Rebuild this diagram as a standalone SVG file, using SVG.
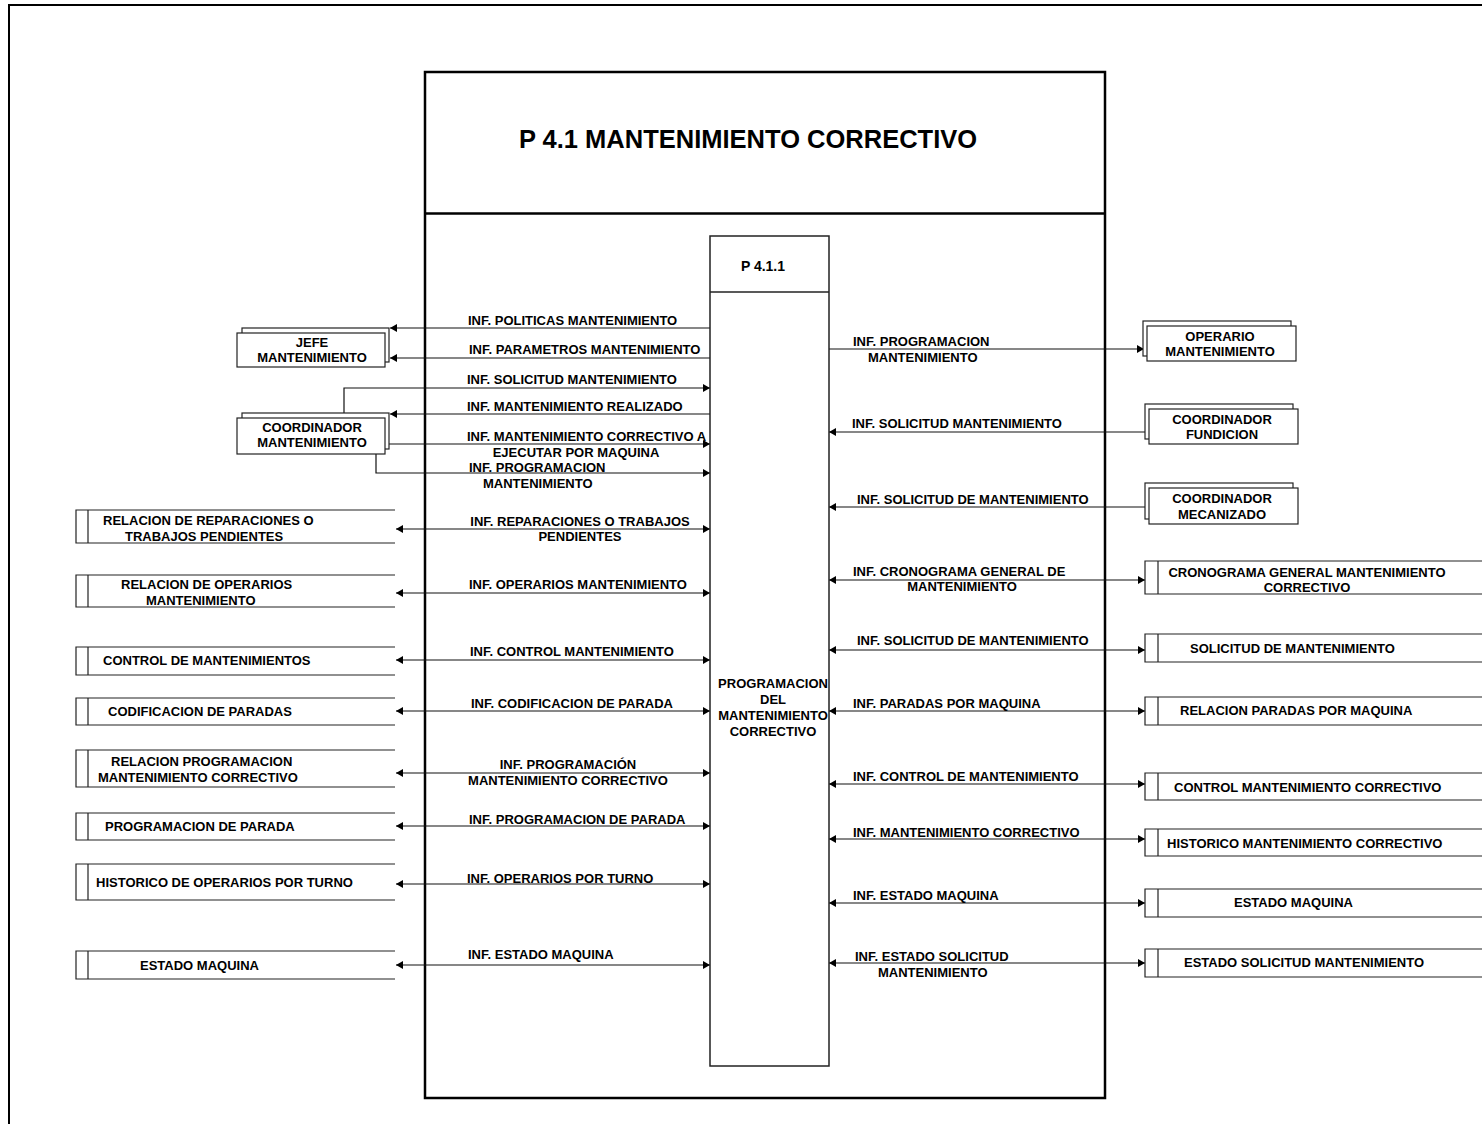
<svg xmlns="http://www.w3.org/2000/svg" width="1482" height="1124" viewBox="0 0 1482 1124">
  <style>
    text { font-family: "Liberation Sans", Arial, sans-serif; font-weight: bold; fill: #000; }
    .lbl { font-size: 13px; }
    .mid { text-anchor: middle; }
    .frame { fill: none; stroke: #000; stroke-width: 2; }
    .box { fill: #fff; stroke: #000; stroke-width: 2.5; }
    .proc { fill: #fff; stroke: #222; stroke-width: 1.5; }
    .ent { fill: #fff; stroke: #222; stroke-width: 1.2; }
    .store { fill: none; stroke: #222; stroke-width: 1.2; }
    .flow { fill: none; stroke: #111; stroke-width: 1.2; }
    .one { marker-end: url(#arr); }
    .two { marker-start: url(#arr); marker-end: url(#arr); }
  </style>
  <defs>
    <marker id="arr" viewBox="0 0 7 8" refX="7" refY="4" markerWidth="7" markerHeight="8" markerUnits="userSpaceOnUse" orient="auto-start-reverse">
      <path d="M0,0 L7,4 L0,8 z" fill="#000"/>
    </marker>
  </defs>

  <rect width="1482" height="1124" fill="#fff"/>

  <!-- page frame -->
  <path class="frame" d="M9,1124 V5 H1482"/>

  <!-- process P 4.1 -->
  <g id="p41">
    <rect class="box" x="425" y="72" width="680" height="1026"/>
    <line x1="425" y1="213.5" x2="1105" y2="213.5" stroke="#000" stroke-width="2.5"/>
    <text x="748" y="148" class="mid" style="font-size:25.5px">P 4.1 MANTENIMIENTO CORRECTIVO</text>
  </g>

  <!-- connectors -->
  <g id="connectors">
    <!-- Jefe mantenimiento -->
    <line class="flow one" x1="710" y1="328" x2="390" y2="328"/>
    <line class="flow one" x1="710" y1="358" x2="390" y2="358"/>
    <!-- Coordinador mantenimiento -->
    <polyline class="flow one" points="344,413 344,388 710,388"/>
    <line class="flow one" x1="710" y1="414" x2="390" y2="414"/>
    <line class="flow one" x1="385" y1="444" x2="710" y2="444"/>
    <polyline class="flow one" points="376,454 376,473 710,473"/>
    <!-- left data stores -->
    <line class="flow two" x1="396" y1="529" x2="710" y2="529"/>
    <line class="flow two" x1="396" y1="593" x2="710" y2="593"/>
    <line class="flow two" x1="396" y1="660" x2="710" y2="660"/>
    <line class="flow two" x1="396" y1="711" x2="710" y2="711"/>
    <line class="flow two" x1="396" y1="773" x2="710" y2="773"/>
    <line class="flow two" x1="396" y1="826" x2="710" y2="826"/>
    <line class="flow two" x1="396" y1="884" x2="710" y2="884"/>
    <line class="flow two" x1="396" y1="965" x2="710" y2="965"/>
    <!-- right entities -->
    <line class="flow one" x1="829" y1="349" x2="1144" y2="349"/>
    <line class="flow one" x1="1145" y1="432" x2="829" y2="432"/>
    <line class="flow one" x1="1145" y1="507" x2="829" y2="507"/>
    <!-- right data stores -->
    <line class="flow two" x1="829" y1="580" x2="1145" y2="580"/>
    <line class="flow two" x1="829" y1="650" x2="1145" y2="650"/>
    <line class="flow two" x1="829" y1="711" x2="1145" y2="711"/>
    <line class="flow two" x1="829" y1="784" x2="1145" y2="784"/>
    <line class="flow two" x1="829" y1="839" x2="1145" y2="839"/>
    <line class="flow two" x1="829" y1="903" x2="1145" y2="903"/>
    <line class="flow two" x1="829" y1="963" x2="1145" y2="963"/>

    <!-- flow labels, left -->
    <text class="lbl" x="468" y="325">INF. POLITICAS MANTENIMIENTO</text>
    <text class="lbl" x="469" y="354">INF. PARAMETROS MANTENIMIENTO</text>
    <text class="lbl" x="467" y="384">INF. SOLICITUD MANTENIMIENTO</text>
    <text class="lbl" x="467" y="411">INF. MANTENIMIENTO REALIZADO</text>
    <text class="lbl" x="467" y="441">INF. MANTENIMIENTO CORRECTIVO A</text>
    <text class="lbl mid" x="576" y="457">EJECUTAR POR MAQUINA</text>
    <text class="lbl" x="469" y="472">INF. PROGRAMACION</text>
    <text class="lbl" x="483" y="488">MANTENIMIENTO</text>
    <text class="lbl mid" x="580" y="526">INF. REPARACIONES O TRABAJOS</text>
    <text class="lbl mid" x="580" y="541">PENDIENTES</text>
    <text class="lbl" x="469" y="589">INF. OPERARIOS MANTENIMIENTO</text>
    <text class="lbl" x="470" y="656">INF. CONTROL MANTENIMIENTO</text>
    <text class="lbl" x="471" y="708">INF. CODIFICACION DE PARADA</text>
    <text class="lbl mid" x="568" y="769">INF. PROGRAMACIÓN</text>
    <text class="lbl mid" x="568" y="785">MANTENIMIENTO CORRECTIVO</text>
    <text class="lbl" x="469" y="824">INF. PROGRAMACION DE PARADA</text>
    <text class="lbl" x="467" y="883">INF. OPERARIOS POR TURNO</text>
    <text class="lbl" x="468" y="959">INF. ESTADO MAQUINA</text>

    <!-- flow labels, right -->
    <text class="lbl" x="853" y="346">INF. PROGRAMACION</text>
    <text class="lbl" x="868" y="362">MANTENIMIENTO</text>
    <text class="lbl" x="852" y="428">INF. SOLICITUD MANTENIMIENTO</text>
    <text class="lbl" x="857" y="504">INF. SOLICITUD DE MANTENIMIENTO</text>
    <text class="lbl" x="853" y="576">INF. CRONOGRAMA GENERAL DE</text>
    <text class="lbl mid" x="962" y="591">MANTENIMIENTO</text>
    <text class="lbl" x="857" y="645">INF. SOLICITUD DE MANTENIMIENTO</text>
    <text class="lbl" x="853" y="708">INF. PARADAS POR MAQUINA</text>
    <text class="lbl" x="853" y="781">INF. CONTROL DE MANTENIMIENTO</text>
    <text class="lbl" x="853" y="837">INF. MANTENIMIENTO CORRECTIVO</text>
    <text class="lbl" x="853" y="900">INF. ESTADO MAQUINA</text>
    <text class="lbl" x="855" y="961">INF. ESTADO SOLICITUD</text>
    <text class="lbl" x="878" y="977">MANTENIMIENTO</text>
  </g>

  <!-- process P 4.1.1 -->
  <g id="p411">
    <rect class="proc" x="710" y="236" width="119" height="830"/>
    <line x1="710" y1="292" x2="829" y2="292" stroke="#222" stroke-width="1.5"/>
    <text class="mid" x="763" y="271" style="font-size:14px">P 4.1.1</text>
    <text class="lbl mid" x="773" y="688">PROGRAMACION</text>
    <text class="lbl mid" x="773" y="704">DEL</text>
    <text class="lbl mid" x="773" y="720">MANTENIMIENTO</text>
    <text class="lbl mid" x="773" y="736">CORRECTIVO</text>
  </g>

  <!-- external entities, left -->
  <g id="jefe-mantenimiento">
    <rect class="ent" x="242" y="328" width="147" height="34"/>
    <rect class="ent" x="237" y="333" width="148" height="34"/>
    <text class="lbl mid" x="312" y="347">JEFE</text>
    <text class="lbl mid" x="312" y="362">MANTENIMIENTO</text>
  </g>
  <g id="coordinador-mantenimiento">
    <rect class="ent" x="242" y="413" width="147" height="36"/>
    <rect class="ent" x="237" y="418" width="148" height="36"/>
    <text class="lbl mid" x="312" y="432">COORDINADOR</text>
    <text class="lbl mid" x="312" y="447">MANTENIMIENTO</text>
  </g>

  <!-- data stores, left -->
  <g id="ds-reparaciones">
    <path class="store" d="M395,510 H76 V543 H395 M88,510 V543"/>
    <text class="lbl" x="103" y="525">RELACION DE REPARACIONES O</text>
    <text class="lbl" x="125" y="541">TRABAJOS PENDIENTES</text>
  </g>
  <g id="ds-operarios">
    <path class="store" d="M395,575 H76 V607 H395 M88,575 V607"/>
    <text class="lbl" x="121" y="589">RELACION DE OPERARIOS</text>
    <text class="lbl" x="146" y="605">MANTENIMIENTO</text>
  </g>
  <g id="ds-control">
    <path class="store" d="M395,647 H76 V675 H395 M88,647 V675"/>
    <text class="lbl" x="103" y="665">CONTROL DE MANTENIMIENTOS</text>
  </g>
  <g id="ds-codificacion">
    <path class="store" d="M395,698 H76 V725 H395 M88,698 V725"/>
    <text class="lbl" x="108" y="716">CODIFICACION DE PARADAS</text>
  </g>
  <g id="ds-programacion-correctivo">
    <path class="store" d="M395,750 H76 V787 H395 M88,750 V787"/>
    <text class="lbl" x="111" y="766">RELACION PROGRAMACION</text>
    <text class="lbl" x="98" y="782">MANTENIMIENTO CORRECTIVO</text>
  </g>
  <g id="ds-programacion-parada">
    <path class="store" d="M395,813 H76 V840 H395 M88,813 V840"/>
    <text class="lbl" x="105" y="831">PROGRAMACION DE PARADA</text>
  </g>
  <g id="ds-operarios-turno">
    <path class="store" d="M395,864 H76 V900 H395 M88,864 V900"/>
    <text class="lbl" x="96" y="887">HISTORICO DE OPERARIOS POR TURNO</text>
  </g>
  <g id="ds-estado-maquina-l">
    <path class="store" d="M395,951 H76 V979 H395 M88,951 V979"/>
    <text class="lbl" x="140" y="970">ESTADO MAQUINA</text>
  </g>

  <!-- external entities, right -->
  <g id="operario-mantenimiento">
    <rect class="ent" x="1143" y="321" width="148" height="35"/>
    <rect class="ent" x="1147" y="326" width="149" height="35"/>
    <text class="lbl mid" x="1220" y="341">OPERARIO</text>
    <text class="lbl mid" x="1220" y="356">MANTENIMIENTO</text>
  </g>
  <g id="coordinador-fundicion">
    <rect class="ent" x="1145" y="404" width="148" height="35"/>
    <rect class="ent" x="1149" y="409" width="149" height="35"/>
    <text class="lbl mid" x="1222" y="424">COORDINADOR</text>
    <text class="lbl mid" x="1222" y="439">FUNDICION</text>
  </g>
  <g id="coordinador-mecanizado">
    <rect class="ent" x="1145" y="483" width="148" height="36"/>
    <rect class="ent" x="1149" y="488" width="149" height="36"/>
    <text class="lbl mid" x="1222" y="503">COORDINADOR</text>
    <text class="lbl mid" x="1222" y="519">MECANIZADO</text>
  </g>

  <!-- data stores, right -->
  <g id="ds-cronograma">
    <path class="store" d="M1482,561 H1145 V594 H1482 M1158,561 V594"/>
    <text class="lbl mid" x="1307" y="577">CRONOGRAMA GENERAL MANTENIMIENTO</text>
    <text class="lbl mid" x="1307" y="592">CORRECTIVO</text>
  </g>
  <g id="ds-solicitud">
    <path class="store" d="M1482,634 H1145 V662 H1482 M1158,634 V662"/>
    <text class="lbl" x="1190" y="653">SOLICITUD DE MANTENIMIENTO</text>
  </g>
  <g id="ds-paradas-maquina">
    <path class="store" d="M1482,697 H1145 V725 H1482 M1158,697 V725"/>
    <text class="lbl" x="1180" y="715">RELACION PARADAS POR MAQUINA</text>
  </g>
  <g id="ds-control-correctivo">
    <path class="store" d="M1482,773 H1145 V800 H1482 M1158,773 V800"/>
    <text class="lbl" x="1174" y="792">CONTROL MANTENIMIENTO CORRECTIVO</text>
  </g>
  <g id="ds-historico-correctivo">
    <path class="store" d="M1482,829 H1145 V856 H1482 M1158,829 V856"/>
    <text class="lbl" x="1167" y="848">HISTORICO MANTENIMIENTO CORRECTIVO</text>
  </g>
  <g id="ds-estado-maquina-r">
    <path class="store" d="M1482,889 H1145 V917 H1482 M1158,889 V917"/>
    <text class="lbl" x="1234" y="907">ESTADO MAQUINA</text>
  </g>
  <g id="ds-estado-solicitud">
    <path class="store" d="M1482,949 H1145 V977 H1482 M1158,949 V977"/>
    <text class="lbl" x="1184" y="967">ESTADO SOLICITUD MANTENIMIENTO</text>
  </g>
</svg>
